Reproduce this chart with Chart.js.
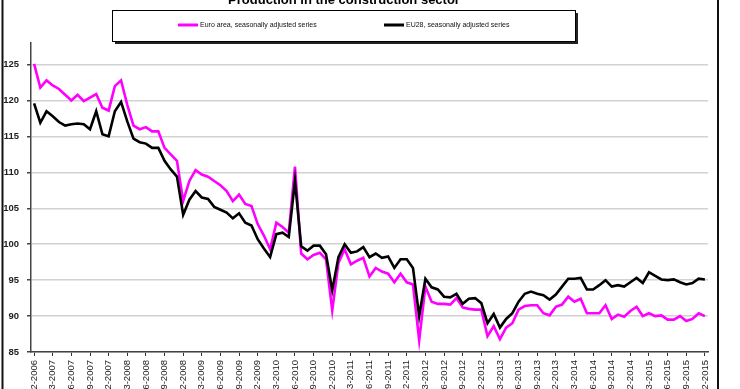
<!DOCTYPE html>
<html lang="en">
<head>
  <meta charset="UTF-8">
  <title>Production in the construction sector</title>
  <script src="https://cdn.jsdelivr.net/npm/chart.js"></script>
  <style>
    html, body {
      margin: 0;
      padding: 0;
      background: #fff;
      overflow: hidden;
    }
    #chart {
      display: block;
    }
  </style>
</head>
<body>
  <canvas id="chart" width="740" height="400"></canvas>

  <script>
    // monthly series, 12-2006 .. 12-2015
    const firstMonth = 12;
    const firstYear = 2006;

    const euroArea = [
      125.1, 121.8, 122.8, 122.1, 121.6, 120.8, 120.0, 120.8, 119.9, 120.4,
      120.9, 119.0, 118.6, 122.0, 122.8, 119.4, 116.5, 116.0, 116.3, 115.7,
      115.7, 113.4, 112.5, 111.6, 106.0, 108.8, 110.3, 109.7, 109.4, 108.8,
      108.2, 107.4, 106.0, 106.9, 105.6, 105.3, 102.8, 101.2, 99.3, 103.0,
      102.4, 101.6, 110.8, 98.7, 97.9, 98.5, 98.8, 97.9, 90.8, 97.4,
      99.3, 97.2, 97.7, 98.1, 95.5, 96.7, 96.2, 95.9, 94.7, 95.9,
      94.7, 94.4, 86.6, 94.1, 92.0, 91.7, 91.7, 91.6, 92.5, 91.2,
      91.0, 90.9, 90.9, 87.2, 88.6, 86.8, 88.4, 89.0, 90.9, 91.4,
      91.5, 91.5, 90.4, 90.1, 91.3, 91.6, 92.7, 92.0, 92.4, 90.4,
      90.4, 90.4, 91.5, 89.6, 90.2, 89.9, 90.7, 91.3, 90.0, 90.4,
      90.0, 90.1, 89.5, 89.5, 90.0, 89.3, 89.6, 90.4, 90.0
    ];

    const eu28 = [
      119.6, 116.9, 118.5, 117.8, 117.0, 116.5, 116.7, 116.8, 116.7, 116.0,
      118.5, 115.3, 115.0, 118.5, 119.8, 117.1, 114.7, 114.2, 114.0, 113.4,
      113.4, 111.6, 110.4, 109.4, 104.1, 106.2, 107.4, 106.5, 106.3, 105.2,
      104.8, 104.4, 103.6, 104.3, 103.0, 102.6, 100.7, 99.4, 98.2, 101.4,
      101.6, 101.0, 108.8, 99.7, 99.1, 99.8, 99.8, 98.6, 93.6, 98.2,
      100.0, 98.8, 99.0, 99.6, 98.2, 98.7, 98.1, 98.3, 96.7, 97.9,
      97.9, 96.7, 90.0, 95.2, 94.0, 93.7, 92.7, 92.6, 93.1, 91.7,
      92.4, 92.5, 91.8, 89.0, 90.3, 88.4, 89.6, 90.4, 92.0, 93.1,
      93.4, 93.1, 92.9, 92.3, 93.0, 94.1, 95.2, 95.2, 95.3, 93.7,
      93.7, 94.3, 95.0, 94.1, 94.3, 94.1, 94.7, 95.3, 94.6, 96.1,
      95.6, 95.1, 95.0, 95.1, 94.7, 94.4, 94.6, 95.2, 95.1
    ];

    const seriesNames = ['Euro area, seasonally adjusted series', 'EU28, seasonally adjusted series'];
    const titleText = 'Production in the construction sector';

    // category labels "m-yyyy"
    const months = [];
    for (let i = 0; i < euroArea.length; i++) {
      const m = (firstMonth - 1 + i) % 12 + 1;
      const y = firstYear + Math.floor((firstMonth - 1 + i) / 12);
      months.push(m + '-' + y);
    }

    // frame, cut-off title and the boxed legend with shadow
    const decor = {
      id: 'decor',
      beforeDraw(chart) {
        const c = chart.ctx;
        c.save();
        c.strokeStyle = '#111';
        c.lineWidth = 2;
        c.beginPath();
        c.moveTo(2.5, 0); c.lineTo(2.5, chart.height);
        c.moveTo(718, 0); c.lineTo(718, chart.height);
        c.stroke();
        c.restore();
      },
      afterDraw(chart) {
        const c = chart.ctx;
        c.save();
        // title (top half is outside the picture)
        c.fillStyle = '#000';
        c.font = 'bold 13px "Liberation Sans", Arial, sans-serif';
        c.textAlign = 'center';
        c.textBaseline = 'alphabetic';
        c.fillText(titleText, 344, 4);

        // legend box
        const bx = 112, by = 10, bw = 463, bh = 31;
        c.fillStyle = '#222';
        c.fillRect(bx + 3, by + 3, bw, bh);
        c.fillStyle = '#fff';
        c.fillRect(bx, by, bw, bh);
        c.strokeStyle = '#000';
        c.lineWidth = 1;
        c.strokeRect(bx + 0.5, by + 0.5, bw, bh);

        const items = [
          { x: 178, ds: chart.data.datasets[0] },
          { x: 384, ds: chart.data.datasets[1] }
        ];
        c.font = '7px "Liberation Sans", Arial, sans-serif';
        c.textAlign = 'left';
        c.textBaseline = 'middle';
        items.forEach(it => {
          c.strokeStyle = it.ds.borderColor;
          c.lineWidth = 3;
          c.beginPath();
          c.moveTo(it.x, 25);
          c.lineTo(it.x + 20, 25);
          c.stroke();
          c.fillStyle = '#111';
          c.fillText(it.ds.label, it.x + 22, 25);
        });
        c.restore();
      }
    };

    new Chart(document.getElementById('chart'), {
      type: 'line',
      data: {
        labels: months,
        datasets: [
          {
            label: seriesNames[0],
            data: euroArea,
            borderColor: '#ff00ff',
            borderWidth: 2.6,
            pointRadius: 0,
            tension: 0,
            order: 1
          },
          {
            label: seriesNames[1],
            data: eu28,
            borderColor: '#000000',
            borderWidth: 2.6,
            pointRadius: 0,
            tension: 0,
            order: 0
          }
        ]
      },
      options: {
        responsive: false,
        animation: false,
        layout: { padding: { top: 43, right: 32, bottom: 0, left: 0 } },
        plugins: {
          legend: { display: false },
          title: { display: false },
          tooltip: { enabled: false }
        },
        scales: {
          x: {
            offset: true,
            afterFit: s => { s.height = 48; },
            grid: {
              drawOnChartArea: false,
              offset: false,
              tickLength: 4,
              tickColor: ctx => (ctx.index % 3 === 0 ? '#333' : 'rgba(0,0,0,0)')
            },
            border: { color: '#444', width: 1.5 },
            ticks: {
              autoSkip: false,
              minRotation: 90,
              maxRotation: 90,
              padding: 4,
              color: '#222',
              font: { family: '"Liberation Sans", Arial, sans-serif', size: 9.5 },
              callback: function (v, i) { return i % 3 === 0 ? this.getLabelForValue(v) : ''; }
            }
          },
          y: {
            min: 85,
            max: 128,
            afterFit: s => { s.width = 31; },
            grid: {
              color: '#d2d2d2',
              lineWidth: 1.5,
              tickLength: 4,
              tickColor: '#444'
            },
            border: { color: '#444', width: 1.5 },
            ticks: {
              stepSize: 5,
              includeBounds: false,
              padding: 8,
              color: '#222',
              font: { family: '"Liberation Sans", Arial, sans-serif', size: 9.5, weight: 'bold' }
            }
          }
        }
      },
      plugins: [decor]
    });
  </script>
</body>
</html>
